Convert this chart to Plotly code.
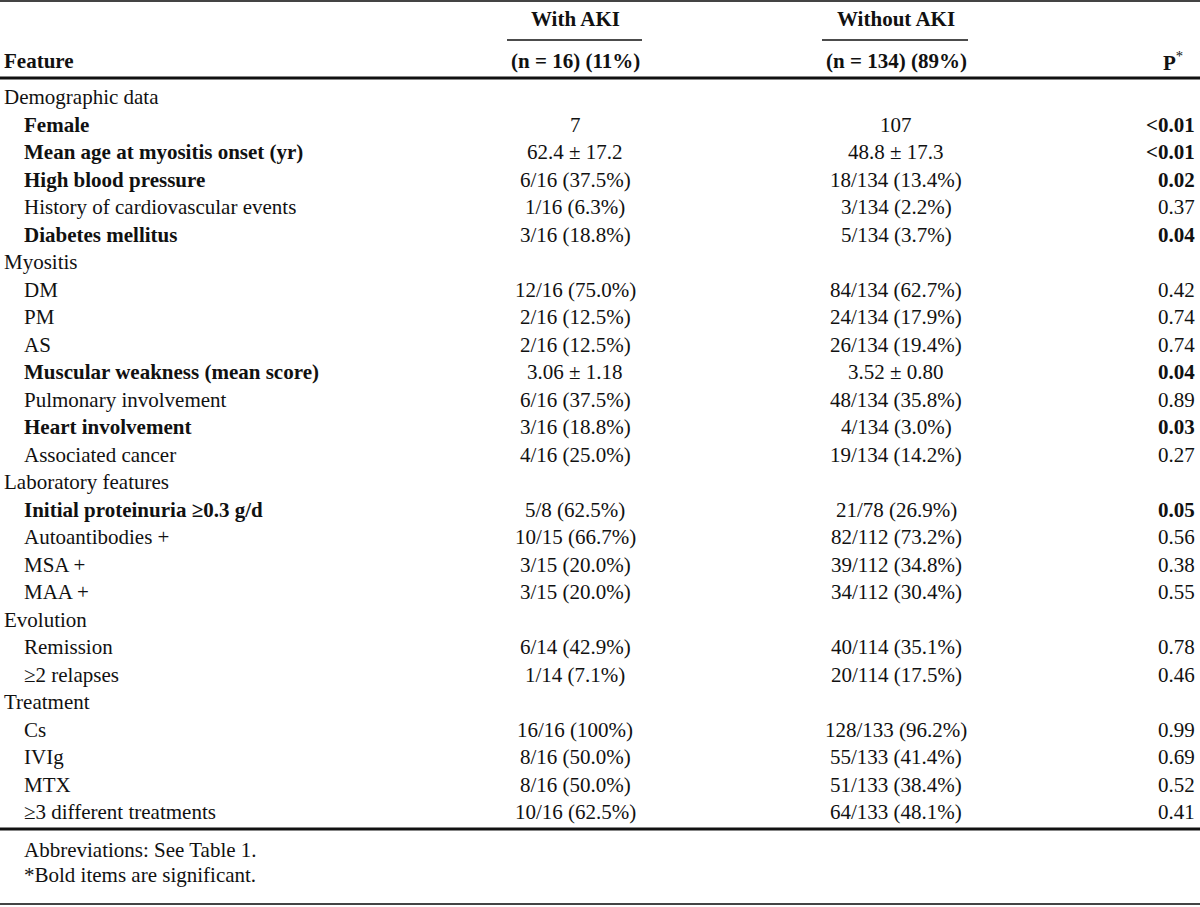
import plotly.graph_objects as go

# ---------------- data ----------------
features = ["Demographic data", "Female", "Mean age at myositis onset (yr)", "High blood pressure",
            "History of cardiovascular events", "Diabetes mellitus", "Myositis", "DM", "PM", "AS",
            "Muscular weakness (mean score)", "Pulmonary involvement", "Heart involvement",
            "Associated cancer", "Laboratory features", "Initial proteinuria ≥0.3 g/d",
            "Autoantibodies +", "MSA +", "MAA +", "Evolution", "Remission", "≥2 relapses",
            "Treatment", "Cs", "IVIg", "MTX", "≥3 different treatments"]
with_aki = ["", "7", "62.4 ± 17.2", "6/16 (37.5%)", "1/16 (6.3%)", "3/16 (18.8%)", "",
            "12/16 (75.0%)", "2/16 (12.5%)", "2/16 (12.5%)", "3.06 ± 1.18", "6/16 (37.5%)",
            "3/16 (18.8%)", "4/16 (25.0%)", "", "5/8 (62.5%)", "10/15 (66.7%)", "3/15 (20.0%)",
            "3/15 (20.0%)", "", "6/14 (42.9%)", "1/14 (7.1%)", "", "16/16 (100%)", "8/16 (50.0%)",
            "8/16 (50.0%)", "10/16 (62.5%)"]
without_aki = ["", "107", "48.8 ± 17.3", "18/134 (13.4%)", "3/134 (2.2%)", "5/134 (3.7%)", "",
               "84/134 (62.7%)", "24/134 (17.9%)", "26/134 (19.4%)", "3.52 ± 0.80", "48/134 (35.8%)",
               "4/134 (3.0%)", "19/134 (14.2%)", "", "21/78 (26.9%)", "82/112 (73.2%)",
               "39/112 (34.8%)", "34/112 (30.4%)", "", "40/114 (35.1%)", "20/114 (17.5%)", "",
               "128/133 (96.2%)", "55/133 (41.4%)", "51/133 (38.4%)", "64/133 (48.1%)"]
p_values = ["", "<0.01", "<0.01", "0.02", "0.37", "0.04", "", "0.42", "0.74", "0.74", "0.04", "0.89",
            "0.03", "0.27", "", "0.05", "0.56", "0.38", "0.55", "", "0.78", "0.46", "", "0.99",
            "0.69", "0.52", "0.41"]
section_rows = {0, 6, 14, 19, 22}
bold_rows = {1, 2, 3, 5, 10, 12, 15}

header_cols = ["Feature", "With AKI", "(n = 16) (11%)", "Without AKI", "(n = 134) (89%)", "P"]
footnotes = ["Abbreviations: See Table 1.", "*Bold items are significant."]

# ---------------- layout ----------------
W, H = 1200, 907
FONT = "Liberation Serif, Times New Roman, serif"
FS = 21
FSB = 21
X_LABEL, X_INDENT = 2, 22
X_WITH, X_WITHOUT, X_P = 575, 896, 1197
Y0, PITCH = 97, 27.5

fig = go.Figure()
ann = []

def txt(x, y, s, anchor="left", bold=False):
    ann.append(dict(x=x, y=y, xref="x", yref="y", text=(f"<b>{s}</b>" if bold else s),
                    showarrow=False, xanchor=anchor, yanchor="middle",
                    font=dict(family=FONT, size=(FSB if bold else FS), color="#111")))

# header
txt(X_LABEL, 61, header_cols[0], bold=True)
txt(X_WITH, 19, header_cols[1], "center", True)
txt(X_WITH, 61, header_cols[2], "center", True)
txt(X_WITHOUT, 19, header_cols[3], "center", True)
txt(X_WITHOUT, 61, header_cols[4], "center", True)
txt(1185, 61, "<b>P</b><sup>*</sup>", "right")

for i, f in enumerate(features):
    y = Y0 + i * PITCH
    b = i in bold_rows
    if i in section_rows:
        txt(X_LABEL, y, f)
        continue
    txt(X_INDENT, y, f, bold=b)
    txt(X_WITH, y, with_aki[i], "center")
    txt(X_WITHOUT, y, without_aki[i], "center")
    txt(X_P, y, p_values[i], "right", bold=b)

y_last = Y0 + (len(features) - 1) * PITCH
y_rule = y_last + 17
for k, fn in enumerate(footnotes):
    txt(X_INDENT, y_rule + 21 + k * 25, fn)

shapes = [
    dict(type="line", x0=0, x1=W, y0=1, y1=1, line=dict(color="#444", width=2)),
    dict(type="line", x0=507, x1=642, y0=40, y1=40, line=dict(color="#111", width=1.5)),
    dict(type="line", x0=822, x1=968, y0=40, y1=40, line=dict(color="#111", width=1.5)),
    dict(type="line", x0=0, x1=W, y0=78, y1=78, line=dict(color="#111", width=3)),
    dict(type="line", x0=0, x1=W, y0=y_rule, y1=y_rule, line=dict(color="#111", width=3)),
    dict(type="line", x0=0, x1=W, y0=904, y1=904, line=dict(color="#444", width=2)),
]
for s in shapes:
    s.update(xref="x", yref="y")

fig.update_layout(
    width=W, height=H, margin=dict(l=0, r=0, t=0, b=0),
    paper_bgcolor="white", plot_bgcolor="white",
    xaxis=dict(range=[0, W], visible=False, fixedrange=True),
    yaxis=dict(range=[H, 0], visible=False, fixedrange=True),
    annotations=ann, shapes=shapes, showlegend=False,
)
fig.write_html(
    "out.html",
    config={"displayModeBar": False},
    post_script="document.body.style.margin='0';document.body.style.overflow='hidden';",
)
